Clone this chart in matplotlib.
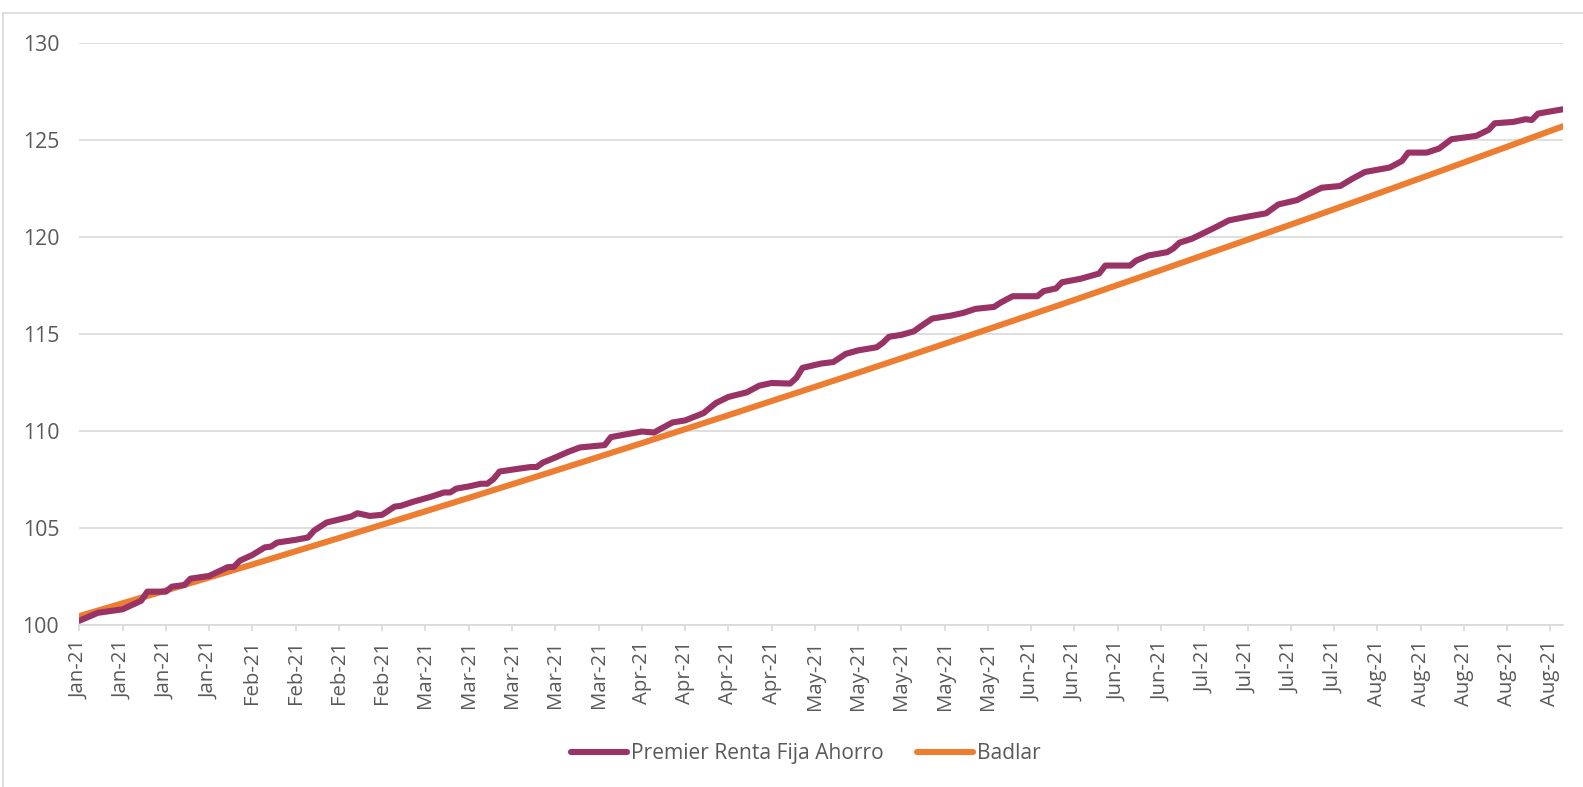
import matplotlib
matplotlib.use("Agg")
import matplotlib.pyplot as plt
import matplotlib.dates as mdates
import pandas as pd
from matplotlib.lines import Line2D

start = pd.Timestamp("2021-01-04")

# Premier Renta Fija Ahorro: days since 4-Jan-21 and index value
prem_day = [0, 3, 7, 10, 11, 14, 15, 17, 18, 21, 24, 25, 26, 28, 30, 31, 32, 35, 37, 38,
            40, 44, 45, 47, 49, 51, 52, 54, 57, 59, 60, 61, 63, 65, 66, 67, 68, 71, 73, 74,
            75, 77, 79, 81, 85, 86, 88, 91, 93, 94, 96, 98, 101, 103, 105, 108, 110, 112, 115, 116,
            117, 120, 122, 124, 126, 129, 130, 131, 133, 135, 136, 138, 141, 143, 145, 148, 149, 151, 155, 156,
            158, 159, 162, 165, 166, 170, 171, 173, 176, 177, 178, 180, 182, 184, 186, 189, 192, 194, 197, 199,
            201, 204, 206, 208, 212, 214, 215, 218, 220, 222, 226, 228, 229, 232, 234, 235, 236, 240]
prem_val = [100.22, 100.63, 100.81, 101.25, 101.72, 101.72, 101.98, 102.06, 102.39, 102.53,
            102.98, 103.00, 103.32, 103.61, 104.00, 104.04, 104.25, 104.39, 104.51, 104.87,
            105.28, 105.59, 105.76, 105.62, 105.68, 106.10, 106.14, 106.35, 106.62, 106.83,
            106.83, 107.03, 107.14, 107.28, 107.28, 107.52, 107.91, 108.05, 108.14, 108.14,
            108.37, 108.63, 108.91, 109.15, 109.27, 109.68, 109.80, 109.97, 109.92, 110.10,
            110.44, 110.54, 110.92, 111.44, 111.75, 111.99, 112.33, 112.47, 112.44, 112.73,
            113.25, 113.47, 113.55, 113.97, 114.15, 114.31, 114.54, 114.85, 114.95, 115.13,
            115.36, 115.79, 115.94, 116.08, 116.29, 116.39, 116.60, 116.94, 116.94, 117.20,
            117.34, 117.66, 117.84, 118.11, 118.52, 118.52, 118.78, 119.04, 119.21, 119.40,
            119.70, 119.90, 120.21, 120.52, 120.85, 121.04, 121.21, 121.67, 121.89, 122.22,
            122.53, 122.62, 123.00, 123.34, 123.57, 123.91, 124.34, 124.34, 124.55, 125.03,
            125.20, 125.51, 125.85, 125.92, 126.06, 126.02, 126.35, 126.57]

# Badlar: weekly readings
badlar_day = [0, 7, 14, 21, 28, 35, 42, 49, 56, 63, 70, 77, 84, 91, 98, 105, 112, 119,
              126, 133, 140, 147, 154, 161, 168, 175, 182, 189, 196, 203, 210, 217, 224, 231, 238, 240]
badlar_val = [100.46, 101.12, 101.78, 102.45, 103.12, 103.80, 104.48, 105.17, 105.86, 106.55,
              107.25, 107.95, 108.66, 109.37, 110.09, 110.81, 111.54, 112.27, 113.00, 113.74,
              114.49, 115.24, 115.99, 116.75, 117.52, 118.29, 119.07, 119.85, 120.63, 121.42,
              122.22, 123.02, 123.83, 124.64, 125.46, 125.69]

labels = ["Premier Renta Fija Ahorro", "Badlar"]
colors = ["#993366", "#ED7D31"]

plt.rcParams['font.family'] = ['Open Sans', 'DejaVu Sans']

fig = plt.figure(figsize=(15.83, 7.87), dpi=100)
ax = fig.add_axes([0.0501, 0.2058, 0.9371, 0.7399])

prem_dates = start + pd.to_timedelta(prem_day, unit="D")
badlar_dates = start + pd.to_timedelta(badlar_day, unit="D")

ax.plot(badlar_dates, badlar_val, color=colors[1], lw=4.4, solid_capstyle="round", zorder=3)
ax.plot(prem_dates, prem_val, color=colors[0], lw=4.4, solid_capstyle="round",
        solid_joinstyle="round", zorder=4)

ax.set_xlim(start, start + pd.Timedelta(days=240))
ax.set_ylim(100, 130)
ax.set_yticks(range(100, 131, 5))
ticks = pd.date_range(start, periods=35, freq="7D")
ax.set_xticks(ticks)
ax.xaxis.set_major_formatter(mdates.DateFormatter("%b-%y"))

ax.grid(axis="y", color="#D9D9D9", lw=1.2)
ax.set_axisbelow(True)
for s in ["top", "right", "left"]:
    ax.spines[s].set_visible(False)
ax.spines["bottom"].set_color("#D9D9D9")
ax.spines["bottom"].set_linewidth(1.2)

ax.tick_params(axis="y", length=0, pad=14.5, labelsize=15.3, labelcolor="#595959")
ax.tick_params(axis="x", length=4.5, width=1.2, color="#D9D9D9", pad=6.5,
               labelsize=14.7, labelcolor="#595959", labelrotation=90)

handles = [Line2D([0], [0], color=c, lw=4.4, solid_capstyle="round") for c in colors]
fig.legend(handles, labels, loc="center", bbox_to_anchor=(0.509, 0.042), ncol=2, frameon=False,
           fontsize=15.1, labelcolor="#595959", handlelength=2.65, handletextpad=0.2,
           columnspacing=1.6)

# chart area border (top and left edges)
fig.add_artist(Line2D([3 / 1583, 1], [1 - 13 / 787, 1 - 13 / 787], color="#D9D9D9", lw=1.2))
fig.add_artist(Line2D([3 / 1583, 3 / 1583], [0, 1 - 13 / 787], color="#D9D9D9", lw=1.2))

fig.savefig("out.png", dpi=100)
